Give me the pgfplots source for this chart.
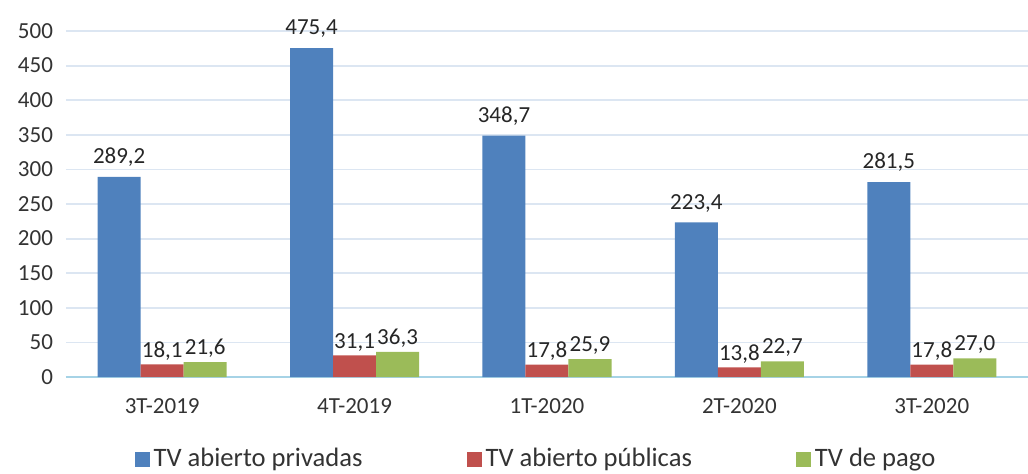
\documentclass[border=0pt]{standalone}
\usepackage{fontspec}
\setmainfont{Carlito}
\usepackage{pgfplots}
\pgfplotsset{compat=1.18}
\definecolor{cblue}{HTML}{4F81BD}
\definecolor{cred}{HTML}{C0504D}
\definecolor{cgreen}{HTML}{9BBB59}
\definecolor{gridc}{HTML}{DCE6F2}
\definecolor{axisc}{HTML}{A6D3E6}
\begin{document}
\begin{tikzpicture}
\begin{axis}[
  scale only axis, width=481pt, height=173pt,
  ybar=0pt, bar width=21.5pt,
  xmin=-0.5, xmax=4.5, ymin=0, ymax=500,
  ytick={0,50,...,500},
  xtick={0,1,2,3,4},
  xticklabels={3T-2019,4T-2019,1T-2020,2T-2020,3T-2020},
  axis x line*=bottom, axis y line*=left,
  x axis line style={draw=axisc, line width=1.2pt, -},
  y axis line style={draw=none},
  major tick length=0pt,
  ymajorgrids, grid style={draw=gridc, line width=0.9pt},
  /pgf/number format/assume math mode=true,
  tick label style={font=\fontsize{11.5}{14}\selectfont, text=black!80},
  xticklabel style={yshift=-7pt},
  yticklabel style={xshift=-3pt},
  nodes near coords={\pgfmathprintnumber[fixed,fixed zerofill,precision=1,use comma]{\pgfplotspointmeta}},
  every node near coord/.append style={font=\fontsize{11.5}{14}\selectfont, text=black!85, inner sep=2pt},
  legend columns=3,
  legend style={at={(0.5,0)}, anchor=center, yshift=-41pt, xshift=-5pt, draw=none, fill=none,
    font=\fontsize{13.3}{15}\selectfont, text=black!80,
    /tikz/every even column/.append style={column sep=50pt}},
  legend image code/.code={\fill[#1] (0pt,-3.75pt) rectangle (7.5pt,3.75pt);},
]
\addplot[fill=cblue, draw=none, every node near coord/.append style={yshift=3pt}] coordinates {(0,289.2) (1,475.4) (2,348.7) (3,223.4) (4,281.5)};
\addplot[fill=cred, draw=none] coordinates {(0,18.1) (1,31.1) (2,17.8) (3,13.8) (4,17.8)};
\addplot[fill=cgreen, draw=none] coordinates {(0,21.6) (1,36.3) (2,25.9) (3,22.7) (4,27.0)};
\legend{TV abierto privadas, TV abierto públicas, TV de pago}
\end{axis}
\pgfresetboundingbox
\path[use as bounding box] (-33pt,-48pt) rectangle (481pt,188.5pt);
\end{tikzpicture}
\end{document}
